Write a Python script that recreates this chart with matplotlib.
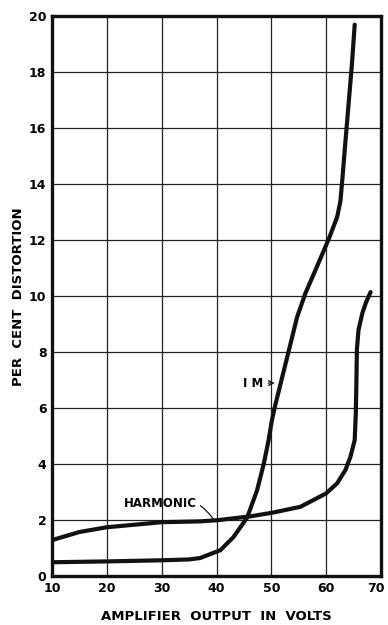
import matplotlib.pyplot as plt
from matplotlib.transforms import ScaledTranslation

# values
im_volts = [10, 20, 30, 35, 37, 40.7, 43.1, 45.6, 47.4, 48.6, 49.5, 50.1, 50.7,
            53.2, 54.7, 56.2, 58.3, 60.5, 62.0, 62.6, 63.0, 63.5, 64.1, 64.7, 65.2]
im_dist = [0.5, 0.53, 0.57, 0.6, 0.65, 0.93, 1.4, 2.1, 3.07, 4.0, 4.86, 5.57, 6.1,
           8.07, 9.26, 10.1, 11.05, 12.06, 12.83, 13.4, 14.3, 15.5, 16.9, 18.3, 19.7]
harm_volts = [10, 15, 20, 30, 37, 40.1, 46.2, 50.2, 55.3, 60, 62, 63.5, 64.4, 65.2,
              65.4, 65.5, 65.6, 65.9, 66.6, 67.3, 68.1]
harm_dist = [1.29, 1.58, 1.75, 1.93, 1.96, 2.0, 2.14, 2.27, 2.48, 2.96, 3.32, 3.79,
             4.25, 4.86, 5.8, 6.8, 8.1, 8.8, 9.4, 9.8, 10.15]
x_ticks = [10, 20, 30, 40, 50, 60, 70]
y_ticks = [0, 2, 4, 6, 8, 10, 12, 14, 16, 18, 20]

fig = plt.figure(figsize=(3.88, 6.25), dpi=100)
ax = fig.add_axes([0.134, 0.078, 0.848, 0.896])

ax.plot(im_volts, im_dist, color="#111111", lw=3, solid_capstyle="round",
        solid_joinstyle="round", zorder=3)
ax.plot(harm_volts, harm_dist, color="#111111", lw=3, solid_capstyle="round",
        solid_joinstyle="round", zorder=3)

ax.set_xlim(10, 70)
ax.set_ylim(0, 20)
ax.set_xticks(x_ticks)
ax.set_yticks(y_ticks)
ax.grid(True, color="#222222", lw=0.9)
ax.tick_params(length=0, pad=4, labelsize=9)
for lbl in ax.get_xticklabels() + ax.get_yticklabels():
    lbl.set_fontweight("bold")
# last x label sits a bit inside, as on the original
last = ax.get_xticklabels()[-1]
last.set_transform(last.get_transform() + ScaledTranslation(-4 / 72, 0, fig.dpi_scale_trans))
for s in ax.spines.values():
    s.set_linewidth(2.4)
    s.set_color("#111111")

ax.annotate("I M", xy=(50.6, 6.9), xytext=(46.6, 6.9), fontsize=8.5,
            fontweight="bold", ha="center", va="center",
            arrowprops=dict(arrowstyle="->", lw=0.9, color="#111111",
                            shrinkA=2, shrinkB=0))
ax.annotate("HARMONIC", xy=(39.4, 2.05), xytext=(29.7, 2.6), fontsize=8.5,
            fontweight="bold", ha="center", va="center",
            arrowprops=dict(arrowstyle="-", lw=0.9, color="#111111",
                            connectionstyle="arc3,rad=-0.4", shrinkA=1, shrinkB=0))

ax.set_xlabel("AMPLIFIER  OUTPUT  IN  VOLTS", fontsize=9.5, fontweight="bold",
              labelpad=11)
ax.set_ylabel("PER  CENT  DISTORTION", fontsize=9.5, fontweight="bold", labelpad=3)

fig.savefig("out.png", dpi=100)
